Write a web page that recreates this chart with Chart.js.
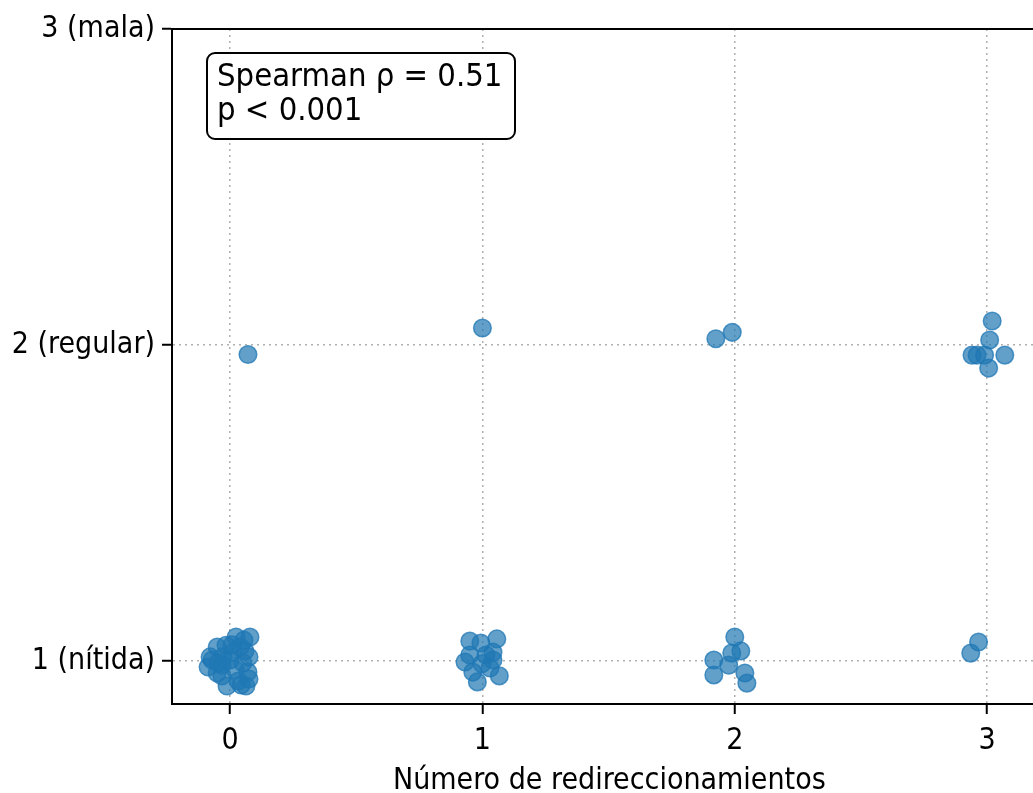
<!DOCTYPE html>
<html>
<head>
<meta charset="utf-8">
<script src="https://cdn.jsdelivr.net/npm/chart.js@4/dist/chart.umd.min.js"></script>
<style>
  html, body { margin: 0; padding: 0; background: #fff; overflow: hidden; }
  #wrap { width: 1057px; height: 793px; }
</style>
</head>
<body>
<div id="wrap"><canvas id="grafico"></canvas></div>
<script>
// valores (con el jitter ya aplicado)
const redirecciones = [
  0.079, 0.024, -0.051, -0.079, -0.087, -0.051, -0.012, 0.063, 0.071, 0.051, 0.012,
  -0.028, 0.040, 0.059, 0.032, -0.032, 0.020, 0.000, -0.071, -0.016, 0.044, 0.055,
  -0.032, 0.075, -0.048, 0.008, 0.075,
  0.071,
  0.950, 0.994, 1.057, 0.931, 1.042, 1.042, 0.980, 1.067, 0.962, 0.998, 1.014, 0.950, 1.030,
  1.000,
  2.000, 2.024, 1.988, 1.917, 1.917, 1.976, 2.040, 2.048,
  1.925, 1.990,
  2.935, 2.966,
  3.020, 3.010, 2.940, 2.960, 2.990, 3.070, 3.006
];
const nitidez = [
  1.076, 1.076, 1.044, 1.013, 0.981, 0.962, 0.921, 0.921, 0.965, 0.994, 1.028,
  1.013, 1.044, 1.032, 0.937, 0.987, 0.972, 1.003, 1.003, 1.050, 0.924, 1.066,
  0.953, 1.013, 0.994, 1.051, 0.943,
  1.970,
  1.063, 1.057, 1.070, 0.997, 1.028, 1.003, 0.934, 0.953, 0.965, 0.991, 1.019, 1.019, 0.978,
  2.054,
  1.076, 1.032, 1.025, 1.003, 0.956, 0.987, 0.962, 0.930,
  2.020, 2.040,
  1.025, 1.060,
  2.076, 2.016, 1.968, 1.968, 1.968, 1.968, 1.927
];
const ticksX = [0, 1, 2, 3];
const ticksY = [1, 2, 3];
const etiquetasY = { 1: '1 (nítida)', 2: '2 (regular)', 3: '3 (mala)' };
const tituloX = 'Número de redireccionamientos';
const textoCaja = ['Spearman ρ = 0.51', 'p < 0.001'];

const puntos = redirecciones.map((x, i) => ({ x: x, y: nitidez[i] }));
const fuente = 'DejaVu Sans Condensed';

const marcoYCaja = {
  id: 'marcoYCaja',
  afterDraw(chart) {
    const { ctx, chartArea } = chart;
    ctx.save();
    // borde superior
    ctx.strokeStyle = '#000';
    ctx.lineWidth = 2;
    ctx.beginPath();
    ctx.moveTo(chartArea.left, chartArea.top);
    ctx.lineTo(chartArea.right, chartArea.top);
    ctx.stroke();
    // caja de texto
    const x0 = chartArea.left + 35, y0 = chartArea.top + 24, w = 308, h = 86, r = 8;
    ctx.beginPath();
    ctx.roundRect(x0, y0, w, h, r);
    ctx.fillStyle = '#fff';
    ctx.fill();
    ctx.lineWidth = 2;
    ctx.stroke();
    ctx.fillStyle = '#000';
    ctx.font = '32.5px "' + fuente + '"';
    ctx.textBaseline = 'middle';
    ctx.textAlign = 'left';
    ctx.fillText(textoCaja[0], x0 + 10, y0 + 25);
    ctx.fillText(textoCaja[1], x0 + 10, y0 + 59);
    ctx.restore();
  }
};

new Chart(document.getElementById('grafico'), {
  type: 'scatter',
  data: {
    datasets: [{
      data: puntos,
      backgroundColor: 'rgba(31,119,180,0.7)',
      borderColor: 'rgba(31,119,180,0.75)',
      borderWidth: 1.5,
      pointRadius: 8.8,
      pointHoverRadius: 8.8
    }]
  },
  options: {
    responsive: true,
    maintainAspectRatio: false,
    animation: false,
    layout: { padding: { top: 29, right: 0, left: 0, bottom: 0 } },
    plugins: { legend: { display: false }, tooltip: { enabled: false } },
    scales: {
      x: {
        type: 'linear',
        min: -0.23,
        max: 3.236,
        afterBuildTicks: s => { s.ticks = ticksX.map(v => ({ value: v })); },
        afterFit: s => { s.height = 89; },
        ticks: {
          font: { family: fuente, size: 30 },
          color: '#000',
          padding: 9,
          maxRotation: 0,
          callback: v => String(v)
        },
        grid: {
          color: '#b0b0b0',
          lineWidth: 1.5,
          drawTicks: true,
          tickLength: 10,
          tickColor: '#000',
          tickWidth: 2,
          tickBorderDash: []
        },
        border: { display: true, color: '#000', width: 2, dash: [2, 4] },
        title: {
          display: true,
          text: tituloX,
          font: { family: fuente, size: 30, lineHeight: 1 },
          color: '#000',
          padding: { top: 0, bottom: -3 }
        }
      },
      y: {
        type: 'linear',
        min: 0.864,
        max: 3.0,
        afterBuildTicks: s => { s.ticks = ticksY.map(v => ({ value: v })); },
        afterFit: s => { s.width = 172; },
        ticks: {
          font: { family: fuente, size: 30 },
          color: '#000',
          padding: 7,
          callback: v => etiquetasY[v]
        },
        grid: {
          color: '#b0b0b0',
          lineWidth: 1.5,
          drawTicks: true,
          tickLength: 10,
          tickColor: '#000',
          tickWidth: 2,
          tickBorderDash: []
        },
        border: { display: true, color: '#000', width: 2, dash: [2, 4] }
      }
    }
  },
  plugins: [marcoYCaja]
});
</script>
</body>
</html>
